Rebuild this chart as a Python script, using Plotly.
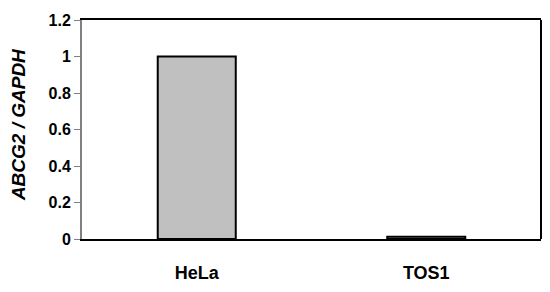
import plotly.graph_objects as go

categories = ["HeLa", "TOS1"]
values = [1.0, 0.012]
y_ticks = [0, 0.2, 0.4, 0.6, 0.8, 1, 1.2]
y_ticktext = ["0", "0.2", "0.4", "0.6", "0.8", "1", "1.2"]
y_title = "ABCG2 / GAPDH"

fig = go.Figure()
fig.add_trace(go.Bar(
    x=categories, y=values,
    width=0.34,
    marker=dict(color="#c0c0c0", line=dict(color="black", width=2)),
))

font = "Liberation Sans, Arial, sans-serif"
fig.update_layout(
    width=534, height=276,
    margin=dict(l=74, r=1, t=12, b=36),
    plot_bgcolor="white", paper_bgcolor="white",
    showlegend=False,
    font=dict(family=font, color="black"),
    xaxis=dict(
        showline=True, linecolor="black", linewidth=2, mirror=True,
        ticks="", ticklabelstandoff=16,
        tickfont=dict(size=18, family=font, weight="bold"),
        showgrid=False, zeroline=False,
    ),
    yaxis=dict(
        range=[0, 1.2], tickvals=y_ticks, ticktext=y_ticktext,
        showline=True, linecolor="#808080", linewidth=2,
        ticks="outside", ticklen=6, tickcolor="#808080", tickwidth=1,
        tickfont=dict(size=16, family=font, weight="bold"),
        showgrid=False, zeroline=False,
    ),
    shapes=[dict(type="line", xref="paper", yref="paper", x0=1, x1=1, y0=0, y1=1,
                 line=dict(color="black", width=2))],
    annotations=[dict(
        text="<i>" + y_title + "</i>", xref="paper", yref="paper",
        x=0, y=0.52, xanchor="center", yanchor="middle", xshift=-64,
        textangle=-90, showarrow=False,
        font=dict(size=19, family=font, weight="bold", color="black"),
    )],
)

fig.write_html("out.html")
